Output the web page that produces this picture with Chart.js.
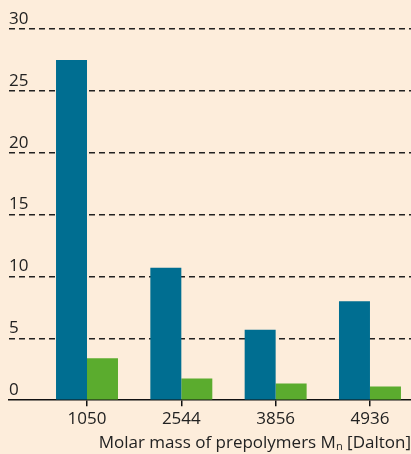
<!DOCTYPE html>
<html>
<head>
<meta charset="utf-8">
<script src="https://cdn.jsdelivr.net/npm/chart.js@4"></script>
<style>
  html, body { margin: 0; padding: 0; background: #fdeddb; }
  #wrap { width: 411px; height: 454px; position: relative; }
</style>
</head>
<body>
<div id="wrap"><canvas id="molarChart"></canvas></div>
<script>
const categories = ['1050', '2544', '3856', '4936'];
const blueValues = [27.5, 10.7, 5.7, 8.0];
const greenValues = [3.4, 1.75, 1.35, 1.1];
const yTicks = [0, 5, 10, 15, 20, 25, 30];

const textColor = '#222';
const fontFamily = '"Open Sans", "DejaVu Sans", sans-serif';

function toPoints(values){
  return values.map((value, index) => ({ x: index, y: value }));
}

new Chart(document.getElementById('molarChart'), {
  type: 'bar',
  data: {
    datasets: [
      {
        label: 'blue',
        data: toPoints(blueValues),
        backgroundColor: '#006e91',
        barPercentage: 1,
        categoryPercentage: 0.657
      },
      {
        label: 'green',
        data: toPoints(greenValues),
        backgroundColor: '#5bac2e',
        barPercentage: 1,
        categoryPercentage: 0.657
      }
    ]
  },
  options: {
    responsive: true,
    maintainAspectRatio: false,
    animation: false,
    layout: {
      padding: { left: 9, right: 0, top: 29, bottom: 1 }
    },
    plugins: {
      legend: { display: false },
      tooltip: { enabled: false }
    },
    scales: {
      x: {
        type: 'linear',
        offset: false,
        min: -0.827,
        max: 3.435,
        afterBuildTicks: axis => {
          axis.ticks = categories.map((c, i) => ({ value: i }));
        },
        ticks: {
          callback: value => categories[value],
          color: textColor,
          padding: 3,
          maxRotation: 0,
          autoSkip: false,
          font: { family: fontFamily, size: 17 }
        },
        grid: {
          offset: false,
          drawOnChartArea: false,
          drawTicks: true,
          tickLength: 6,
          color: '#111',
          lineWidth: 1.5
        },
        border: { display: true, color: '#111', width: 1.5 },
        title: {
          display: true,
          text: 'Molar mass of prepolymers Mₙ [Dalton]',
          align: 'end',
          color: textColor,
          padding: { top: 0, bottom: 0 },
          font: { family: fontFamily, size: 17 }
        }
      },
      y: {
        min: 0,
        max: 30,
        afterBuildTicks: axis => {
          axis.ticks = yTicks.map(v => ({ value: v }));
        },
        ticks: {
          mirror: true,
          padding: 0,
          labelOffset: -10,
          color: textColor,
          font: { family: fontFamily, size: 17 }
        },
        grid: {
          drawTicks: false,
          color: ctx => ctx.tick && ctx.tick.value === 0 ? 'rgba(0,0,0,0)' : '#222',
          lineWidth: 1.5
        },
        border: { display: false, dash: [6, 4] }
      }
    }
  }
});
</script>
</body>
</html>
